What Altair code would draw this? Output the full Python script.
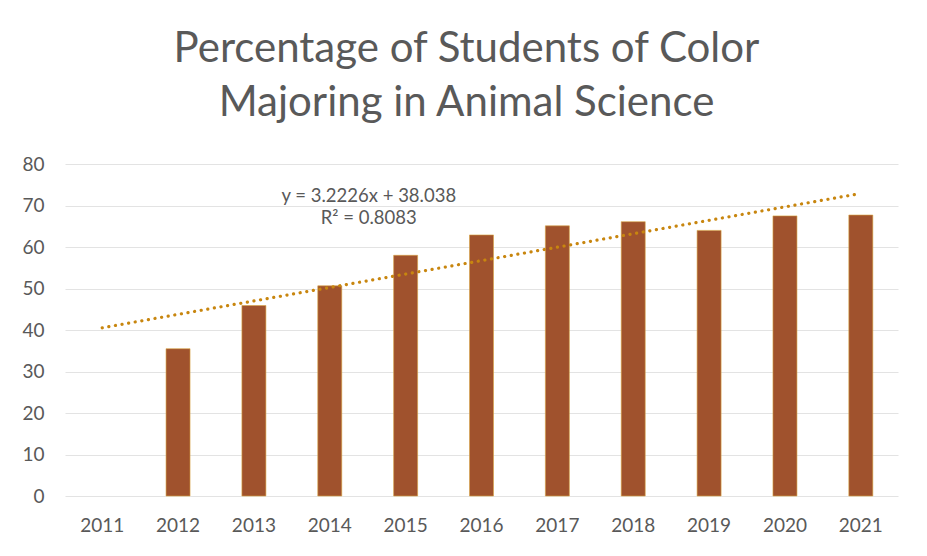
import altair as alt
import pandas as pd

years = ["2011", "2012", "2013", "2014", "2015", "2016", "2017", "2018", "2019", "2020", "2021"]
idx = [1, 2, 3, 4, 5, 6, 7, 8, 9, 10, 11]
values = [None, 35.5, 45.9, 50.65, 58.0, 62.9, 65.1, 66.1, 64.0, 67.5, 67.7]
title_lines = ["Percentage of Students of Color", "Majoring in Animal Science"]
eq_lines = ["y = 3.2226x + 38.038", "R² = 0.8083"]
y_ticks = [0, 10, 20, 30, 40, 50, 60, 70, 80]

df = pd.DataFrame({"year": years, "idx": idx, "value": values})

FONT = "Lato"
GRAY = "#595959"

xscale = alt.Scale(domain=years, paddingInner=0.68, paddingOuter=0.33)
yscale = alt.Scale(domain=[0, 80])

base = alt.Chart(df)

xaxis = alt.Axis(labelAngle=0, ticks=False, domain=False, labelPadding=20, grid=False,
                 labelFontSize=19, labelColor=GRAY, labelFont=FONT)

bars = base.mark_bar(color="#A0522D", stroke="#D9A441", strokeWidth=0.6, size=24).encode(
    x=alt.X("year:N", scale=xscale, sort=years, title=None, axis=xaxis),
    y=alt.Y("value:Q", scale=yscale, title=None,
            axis=alt.Axis(values=y_ticks, ticks=False, domain=False, labelPadding=21,
                          labelFontSize=19, labelColor=GRAY, labelFont=FONT,
                          gridColor="#e3e3e3", gridWidth=1)),
).transform_filter("datum.value != null")

trend = base.transform_filter("datum.value != null").transform_regression(
    "idx", "value", method="linear", extent=[1, 11]
).transform_calculate(
    year="'' + (2010 + datum.idx)"
).mark_line(color="#C8860F", strokeWidth=3.2, strokeDash=[0.1, 6.6], strokeCap="round").encode(
    x=alt.X("year:N", scale=xscale, sort=years, title=None, axis=xaxis),
    y=alt.Y("value:Q", scale=yscale),
)

eq_df = pd.DataFrame({"year": ["2014"], "value": [72.2], "label": [eq_lines]})
eq = alt.Chart(eq_df).mark_text(font=FONT, fontSize=18.5, color=GRAY, lineHeight=22,
                                align="center", baseline="middle", dx=39).encode(
    x=alt.X("year:N", scale=xscale, sort=years, title=None, axis=xaxis),
    y=alt.Y("value:Q", scale=yscale),
    text="label",
)

chart = alt.layer(bars, trend, eq).properties(
    width=833,
    height=332,
    padding={"left": 57, "top": 156, "right": 21, "bottom": 52},
    autosize=alt.AutoSizeParams(type="none"),
    title=alt.TitleParams(text=title_lines, font=FONT, fontSize=42, fontWeight="normal",
                          color=GRAY, anchor="middle", lineHeight=54, offset=30, dx=-15),
).configure(background="white", view=alt.ViewConfig(strokeWidth=0, stroke="transparent"))

chart.save("out.html", embed_options={"renderer": "svg", "actions": False})
